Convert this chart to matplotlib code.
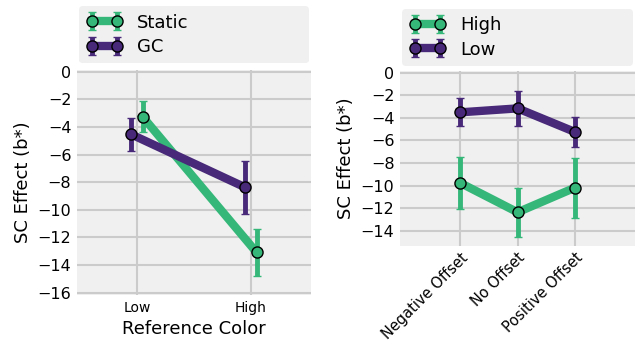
import matplotlib
matplotlib.use("Agg")
import matplotlib.pyplot as plt
import numpy as np

# Left panel data
left_categories = ["Low", "High"]
static_vals = [-3.26, -13.09]
static_err = [1.1, 1.72]
gc_vals = [-4.54, -8.38]
gc_err = [1.2, 1.93]

# Right panel data
right_categories = ["Negative Offset", "No Offset", "Positive Offset"]
high_vals = [-9.76, -12.36, -10.18]
high_err = [2.3, 2.15, 2.65]
low_vals = [-3.51, -3.16, -5.25]
low_err = [1.24, 1.55, 1.33]

GREEN = "#35b779"
PURPLE = "#482878"

fig = plt.figure(figsize=(6.41, 3.43), dpi=100)
ax1 = fig.add_axes([0.120, 0.140, 0.365, 0.656])
ax2 = fig.add_axes([0.624, 0.283, 0.367, 0.510])

def style(ax):
    ax.set_facecolor("#f0f0f0")
    for s in ax.spines.values():
        s.set_visible(False)
    ax.grid(True, color="#cbcbcb", linewidth=1.5)
    ax.set_axisbelow(True)
    ax.tick_params(length=0, pad=4)
    ax.tick_params(axis="y", labelsize=11.5)

def plot_series(ax, x, y, e, color, label):
    ax.errorbar(x, y, yerr=e, color=color, linewidth=6, elinewidth=3.5,
                capsize=3, capthick=2, marker="o", markersize=8,
                markerfacecolor=color, markeredgecolor="black",
                markeredgewidth=1, label=label)

def add_legend(ax):
    ax.legend(loc="lower left", bbox_to_anchor=(0.01, 1.03, 0.98, 0.3),
              mode="expand", numpoints=2, fontsize=13, frameon=True,
              facecolor="#f0f0f0", edgecolor="none", framealpha=1,
              borderaxespad=0, handlelength=2.0, labelspacing=0.35)

style(ax1)
xl = np.arange(len(left_categories))
plot_series(ax1, xl + 0.05, static_vals, static_err, GREEN, "Static")
plot_series(ax1, xl - 0.05, gc_vals, gc_err, PURPLE, "GC")
ax1.set_xticks(xl)
ax1.set_xticklabels(left_categories, fontsize=10)
ax1.set_xlim(-0.526, 1.526)
ax1.set_ylim(-16.17, 0.12)
ax1.set_yticks(np.arange(-16, 1, 2))
ax1.set_xlabel("Reference Color", fontsize=13)
ax1.set_ylabel("SC Effect (b*)", fontsize=13)
add_legend(ax1)

style(ax2)
xr = np.arange(len(right_categories))
plot_series(ax2, xr, high_vals, high_err, GREEN, "High")
plot_series(ax2, xr, low_vals, low_err, PURPLE, "Low")
ax2.set_xticks(xr)
ax2.set_xticklabels(right_categories, rotation=45, ha="right",
                    rotation_mode="anchor", fontsize=10.5)
ax2.tick_params(axis="x", pad=3)
ax2.set_xlim(-1.05, 3.05)
ax2.set_ylim(-15.34, 0.15)
ax2.set_yticks(np.arange(-14, 1, 2))
ax2.set_ylabel("SC Effect (b*)", fontsize=13)
add_legend(ax2)

fig.savefig("out.png", dpi=100, facecolor="white")
